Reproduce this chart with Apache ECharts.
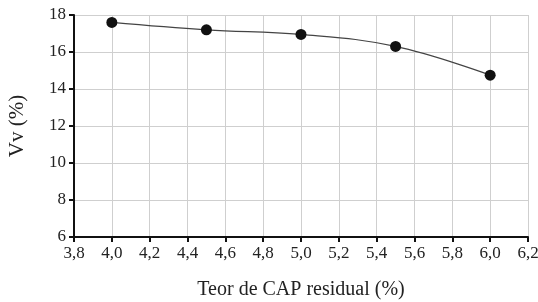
<!DOCTYPE html>
<html>
<head>
<meta charset="utf-8">
<script src="https://cdn.jsdelivr.net/npm/echarts@6/dist/echarts.min.js"></script>
<style>
  html, body { margin: 0; padding: 0; background: #fff; }
  #chart { width: 538px; height: 302px; }
</style>
</head>
<body>
<div id="chart"></div>
<script>
// teor de CAP residual (%) x Vv (%)
const teorCap = [4.0, 4.5, 5.0, 5.5, 6.0];
const vv = [17.6, 17.2, 16.95, 16.3, 14.75];

const fmt = v => v.toFixed(1).replace('.', ',');
const font = 'Liberation Serif';

const myChart = echarts.init(document.getElementById('chart'));
const option = {
    backgroundColor: '#fff',
    animation: false,
    grid: { left: 74, right: 10, top: 15, bottom: 65, outerBoundsMode: 'none' },
    xAxis: {
        type: 'value',
        min: 3.8,
        max: 6.2,
        interval: 0.2,
        name: 'Teor de CAP residual (%)',
        nameLocation: 'middle',
        nameGap: 43,
        nameTextStyle: { fontFamily: font, fontSize: 20, color: '#222' },
        axisLine: { lineStyle: { color: '#111', width: 2 } },
        axisTick: { show: true, length: 5, lineStyle: { color: '#111', width: 2 } },
        axisLabel: {
            fontFamily: font, fontSize: 17, color: '#222', margin: 8,
            formatter: v => fmt(v)
        },
        splitLine: { show: true, lineStyle: { color: '#cfcfcf', width: 1 } }
    },
    yAxis: {
        type: 'value',
        min: 6,
        max: 18,
        interval: 2,
        name: 'Vv (%)',
        nameLocation: 'middle',
        nameGap: 46,
        nameRotate: 90,
        nameTextStyle: { fontFamily: font, fontSize: 21, color: '#222' },
        axisLine: { show: true, lineStyle: { color: '#111', width: 2 } },
        axisTick: { show: true, length: 5, lineStyle: { color: '#111', width: 2 } },
        axisLabel: { fontFamily: font, fontSize: 17, color: '#222', margin: 8 },
        splitLine: { show: true, lineStyle: { color: '#cfcfcf', width: 1 } }
    },
    series: [{
        type: 'line',
        data: teorCap.map((x, i) => [x, vv[i]]),
        smooth: 0.4,
        symbol: 'circle',
        symbolSize: 11,
        itemStyle: { color: '#111' },
        lineStyle: { color: '#444', width: 1.2 }
    }]
};
myChart.setOption(option);
</script>
</body>
</html>
